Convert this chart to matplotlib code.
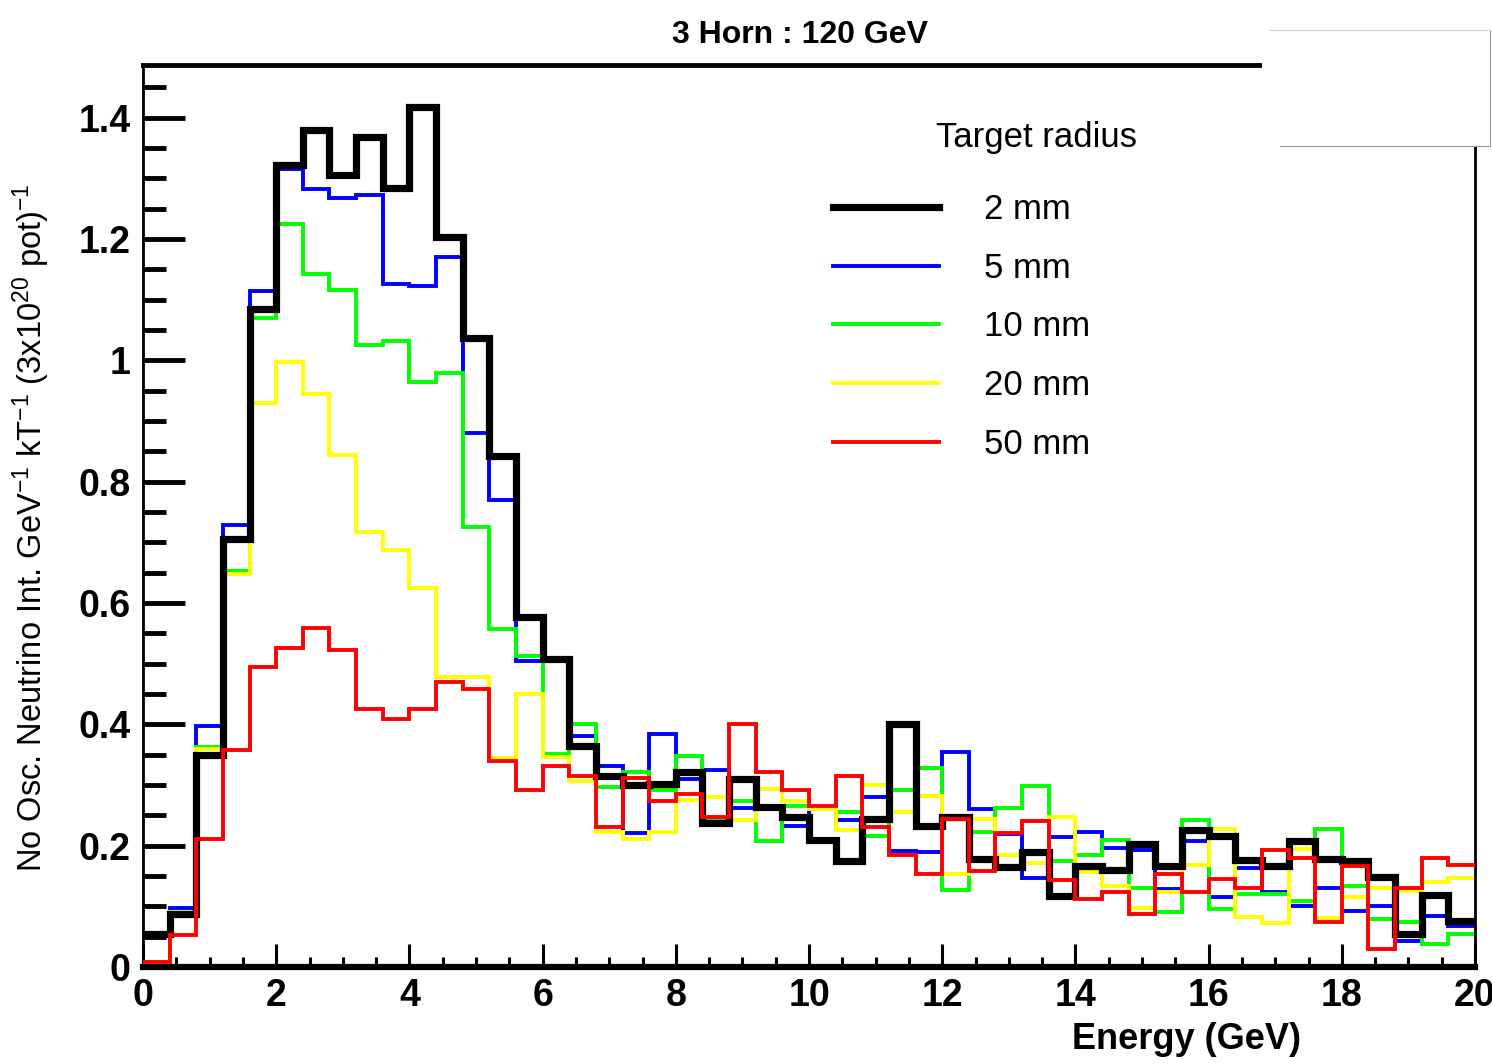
import numpy as np
import matplotlib.pyplot as plt
from matplotlib.patches import Rectangle
from matplotlib.lines import Line2D
from matplotlib.ticker import MultipleLocator

plt.rcParams['font.family'] = ['Liberation Sans', 'DejaVu Sans']
plt.rcParams['mathtext.fontset'] = 'custom'
plt.rcParams['mathtext.rm'] = 'Liberation Sans'
plt.rcParams['mathtext.default'] = 'regular'

# 50 bins of 0.4 GeV from 0 to 20 GeV
bin_edges = np.linspace(0, 20, 51)

radius_labels = ['2 mm', '5 mm', '10 mm', '20 mm', '50 mm']

r2mm = [0.054, 0.087, 0.35, 0.706, 1.085, 1.322, 1.38, 1.306, 1.369, 1.284,
        1.417, 1.204, 1.037, 0.843, 0.577, 0.507, 0.364, 0.315, 0.30, 0.302,
        0.321, 0.237, 0.31, 0.264, 0.247, 0.209, 0.175, 0.244, 0.40, 0.233,
        0.247, 0.178, 0.165, 0.19, 0.117, 0.167, 0.16, 0.203, 0.167, 0.226,
        0.216, 0.176, 0.166, 0.208, 0.178, 0.175, 0.148, 0.054, 0.118, 0.076]

r5mm = [0.0, 0.097, 0.398, 0.729, 1.115, 1.316, 1.282, 1.268, 1.273, 1.126,
        1.122, 1.17, 0.88, 0.77, 0.505, 0.505, 0.38, 0.332, 0.221, 0.384,
        0.31, 0.325, 0.262, 0.262, 0.232, 0.26, 0.243, 0.28, 0.192, 0.189,
        0.354, 0.26, 0.22, 0.146, 0.214, 0.223, 0.197, 0.193, 0.129, 0.208,
        0.115, 0.163, 0.123, 0.10, 0.131, 0.093, 0.10, 0.043, 0.084, 0.068]

r10mm = [0.0, 0.09, 0.362, 0.653, 1.07, 1.225, 1.143, 1.116, 1.026, 1.032,
         0.964, 0.98, 0.725, 0.558, 0.513, 0.351, 0.40, 0.297, 0.322, 0.291,
         0.348, 0.245, 0.274, 0.207, 0.265, 0.26, 0.256, 0.216, 0.291, 0.328,
         0.127, 0.223, 0.262, 0.299, 0.174, 0.185, 0.21, 0.131, 0.09, 0.242,
         0.096, 0.12, 0.12, 0.109, 0.228, 0.134, 0.079, 0.074, 0.038, 0.054]

r20mm = [0.0, 0.09, 0.36, 0.648, 0.93, 0.997, 0.945, 0.844, 0.717, 0.688,
         0.624, 0.478, 0.478, 0.345, 0.45, 0.346, 0.307, 0.222, 0.211, 0.223,
         0.275, 0.28, 0.243, 0.293, 0.273, 0.26, 0.226, 0.30, 0.256, 0.282,
         0.153, 0.244, 0.184, 0.171, 0.248, 0.156, 0.134, 0.098, 0.123, 0.168,
         0.228, 0.082, 0.073, 0.195, 0.08, 0.115, 0.131, 0.125, 0.14, 0.146]

r50mm = [0.008, 0.052, 0.211, 0.357, 0.494, 0.526, 0.559, 0.522, 0.425, 0.409,
         0.425, 0.47, 0.458, 0.34, 0.291, 0.332, 0.315, 0.231, 0.311, 0.274,
         0.285, 0.247, 0.40, 0.322, 0.291, 0.266, 0.315, 0.231, 0.184, 0.153,
         0.244, 0.159, 0.221, 0.24, 0.144, 0.112, 0.123, 0.087, 0.153, 0.124,
         0.145, 0.131, 0.193, 0.179, 0.075, 0.166, 0.03, 0.13, 0.179, 0.168]

x_ticks = [0, 2, 4, 6, 8, 10, 12, 14, 16, 18, 20]
y_ticks = [0, 0.2, 0.4, 0.6, 0.8, 1.0, 1.2, 1.4]

series = [r2mm, r5mm, r10mm, r20mm, r50mm]
colors = ['#000000', '#0000ff', '#00ff00', '#ffff00', '#ff0000']
widths = [5.2, 2.8, 2.8, 2.8, 2.8]
zorders = [3, 2, 2, 2, 4]

fig = plt.figure(figsize=(14.92, 10.64), dpi=100)
ax = fig.add_axes([143 / 1492, 1 - 967 / 1064, (1475 - 143) / 1492, (967 - 65) / 1064])

for vals, c, lw, z in zip(series, colors, widths, zorders):
    ax.stairs(vals, bin_edges, baseline=None, color=c, lw=lw, zorder=z)

ax.set_xlim(0, 20)
ax.set_ylim(0, 1.487)

ax.set_xticks(x_ticks, ['%g' % v for v in x_ticks], fontweight='bold')
ax.set_yticks(y_ticks, ['%g' % v for v in y_ticks], fontweight='bold')
ax.xaxis.set_minor_locator(MultipleLocator(0.5))
ax.yaxis.set_minor_locator(MultipleLocator(0.05))
ax.tick_params(axis='y', which='major', direction='in', length=30, width=3.5,
               labelsize=27, pad=9)
ax.tick_params(axis='y', which='minor', direction='in', length=16.5, width=3.5)
ax.tick_params(axis='x', which='major', direction='in', length=16.5, width=2.2,
               labelsize=27, pad=8)
ax.tick_params(axis='x', which='minor', direction='in', length=7, width=2.2)

ax.spines['left'].set_linewidth(2)
ax.spines['bottom'].set_linewidth(4.5)
ax.spines['top'].set_linewidth(3.5)
ax.spines['right'].set_linewidth(2)

ax.set_xlabel('Energy (GeV)', fontsize=26, fontweight='bold', ha='right', va='top')
ax.xaxis.set_label_coords(0.869, -0.061)
ax.set_ylabel(r'No Osc. Neutrino Int. GeV$^{-1}$ kT$^{-1}$ (3x10$^{20}$ pot)$^{-1}$',
              fontsize=23.5)
ax.yaxis.set_label_coords(-0.068, 0.487)

fig.text(800 / 1492, 1 - 43 / 1064, '3 Horn : 120 GeV', ha='center',
         va='baseline', fontsize=23, fontweight='bold')

handles = [Line2D([], [], color=c, lw=lw) for c, lw in zip(colors, widths)]
ax.legend(handles, radius_labels, loc='upper left', bbox_to_anchor=(0.518, 0.858),
          frameon=False, fontsize=25, handlelength=3.06, handletextpad=1.3,
          labelspacing=0.74, borderaxespad=0, borderpad=0)
ax.text(0.671, 0.920, 'Target radius', transform=ax.transAxes, ha='center',
        va='center', fontsize=25)

# white box covering the top-right corner (stats box remnant)
fig.add_artist(Rectangle((1262 / 1492, 1 - 146 / 1064), 228 / 1492, 116 / 1064,
                         transform=fig.transFigure, facecolor='white',
                         edgecolor='none', zorder=10))
fig.add_artist(Line2D([1280 / 1492, 1490 / 1492], [1 - 146 / 1064] * 2,
                      transform=fig.transFigure, color='#999999', lw=0.8, zorder=11))
fig.add_artist(Line2D([1490 / 1492] * 2, [1 - 146 / 1064, 1 - 30 / 1064],
                      transform=fig.transFigure, color='#999999', lw=0.8, zorder=11))
fig.add_artist(Line2D([1270 / 1492, 1490 / 1492], [1 - 30 / 1064] * 2,
                      transform=fig.transFigure, color='#cccccc', lw=0.8, zorder=11))

fig.savefig('out.png', dpi=100)
